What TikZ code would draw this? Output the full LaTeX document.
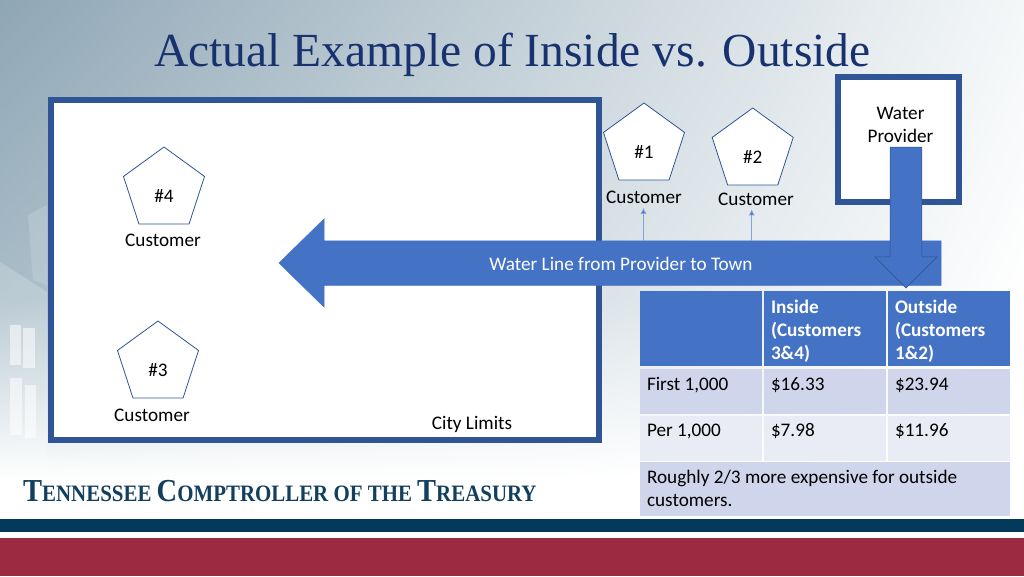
\documentclass[tikz,border=0pt]{standalone}
\usepackage{fontspec}
\setmainfont{Carlito}
\newfontfamily\titlefont{Liberation Serif}
\newfontfamily\footfont[FakeStretch=0.89]{Liberation Serif}
\usetikzlibrary{positioning}
\usetikzlibrary{calc}
\usetikzlibrary{shadings}
\usetikzlibrary{arrows.meta}
\usetikzlibrary{shapes,shapes.arrows,shapes.geometric}
\definecolor{boxblue}{HTML}{2F5597}
\definecolor{fillblue}{HTML}{4472C4}
\definecolor{edgeblue}{HTML}{2F528F}
\definecolor{rowdark}{HTML}{CFD5EA}
\definecolor{rowlight}{HTML}{E9EBF5}
\definecolor{titleblue}{HTML}{17326F}
\definecolor{footblue}{HTML}{123F5E}
\definecolor{bandnavy}{HTML}{033A5C}
\definecolor{bandred}{HTML}{9C2A41}
\definecolor{bgtop}{HTML}{8FA6B5}
\definecolor{bgmid}{HTML}{A9BDC8}
\definecolor{bgright}{HTML}{F4F7F8}
\tikzstyle{limitbox}=[draw=boxblue,fill=white,line width=6pt]
\tikzstyle{pentagon}=[regular polygon,regular polygon sides=5,draw=boxblue,fill=white,minimum size=85.2pt,inner sep=0pt,outer sep=0pt,line width=0.8pt]
\tikzstyle{txt}=[font=\fontsize{19.2}{23}\selectfont,inner sep=0pt,outer sep=0pt,align=center]
\tikzstyle{celltxt}=[txt,anchor=base west,align=left]
\tikzstyle{headtxt}=[celltxt,font=\fontsize{19.2}{23}\selectfont\bfseries,text=white]
\tikzstyle{cell}=[inner sep=0pt,outer sep=0pt,anchor=north west]
\tikzstyle{tapline}=[draw=fillblue!65,line width=0.8pt,shorten >=4pt,-{Latex[length=6pt,width=6pt,fill=fillblue]}]
\tikzstyle{linearrow}=[single arrow,fill=fillblue,draw=fillblue,outer sep=0pt,line width=0.5pt]
\newcommand{\smallcap}[2]{{\fontsize{32}{32}\selectfont #1}{\fontsize{23.5}{24}\selectfont #2}}

\begin{document}
\begin{tikzpicture}[x=1pt,y=-1pt]
    \useasboundingbox (0,0) rectangle (1024,576);

% Background
    \fill[white] (0,0) rectangle (1024,576);
    \shade[upper left=bgtop,upper right=bgright,lower left=bgmid,lower right=white] (0,0) rectangle (1024,300);
    \shade[upper left=bgmid,upper right=white,lower left=white,lower right=white] (0,300) rectangle (1024,480);

% Building
    \fill[white,opacity=0.15] (28,215) -- (47,205) -- (47,285) -- (33,280) -- cycle;
    \fill[white,opacity=0.2] (0,262) -- (47,292) -- (47,470) -- (0,470) -- cycle;
    \foreach \x/\y/\w/\h in {10/325/11/40,23/328/12/40,10/378/12/57,25/385/11/53}
        \fill[white,opacity=0.55] (\x,\y) rectangle (\x+\w,\y+\h);

% Title
    \node[inner sep=0pt,anchor=base west,text=titleblue,font=\fontsize{47.5}{50}\selectfont\titlefont] (title) at (154,66) {Actual Example of Inside vs. Outside};

% Boxes
    \draw[limitbox] (51,100) rectangle (599,440);
    \draw[limitbox] (838,76.5) rectangle (959,202);
    \node[txt] (provider) at (900.5,125) {Water\\Provider};
    \node[txt] (limits) at (472,424) {City Limits};

% Customers
    \foreach \pos/\name/\num in {{(644,145.6)/pa/1},{(752.7,150.6)/pb/2},{(158,363.6)/pc/3},{(164,189.6)/pd/4}}
    {
        \node[pentagon] (\name) at \pos {};
        \node[txt,yshift=-6pt] (\name num) at (\name) {\#\num};
    }
    \foreach \pos/\name in {{(644,197.5)/ca},{(756,199)/cb},{(152,415)/cc},{(163,240)/cd}}
        \node[txt] (\name) at \pos {Customer};

% Water line
    \node[linearrow,inner sep=22pt,anchor=tip,shape border rotate=180,minimum height=662pt,minimum width=88pt,single arrow head extend=22pt,single arrow head indent=0pt,single arrow tip angle=88.8] (waterline) at (279,263) {};
    \node[txt,text=white] (linetxt) at (621,263.5) {Water Line from Provider to Town};

    \coordinate (tapa) at (643.5,241);
    \coordinate (tapb) at (751.7,241);
    \draw[tapline] (tapa) -- (tapa |- ca.south);
    \draw[tapline] (tapb) -- (tapb |- cb.south);

    \node[linearrow,draw=edgeblue,inner sep=15.7pt,anchor=tip,shape border rotate=270,minimum height=141pt,minimum width=62pt,single arrow head extend=15.3pt,single arrow head indent=0pt,single arrow tip angle=90] (feed) at (906,288) {};

% Table
    \foreach \x/\y/\w/\h/\name/\col in {640/291/122/75/ha/fillblue,764/291/122/75/hb/fillblue,888/291/122/75/hc/fillblue,
        640/369/122/44.5/ra/rowdark,764/369/122/44.5/rb/rowdark,888/369/122/44.5/rc/rowdark,
        640/415.5/122/45/sa/rowlight,764/415.5/122/45/sb/rowlight,888/415.5/122/45/sc/rowlight,
        640/462/370/53.8/ta/rowdark}
        \node[cell,fill=\col,minimum width=\w pt,minimum height=\h pt] (\name) at (\x,\y) {};

    \foreach \x/\y/\name/\body in {771/313/hb1/Inside,771/336/hb2/(Customers,771/359/hb3/3\&4),
        895/313/hc1/Outside,895/336/hc2/(Customers,895/359/hc3/1\&2)}
        \node[headtxt] (\name) at (\x,\y) {\body};

    \foreach \x/\y/\name/\body in {647/390/ra1/{First 1,000},771/390/rb1/\$16.33,895/390/rc1/\$23.94,
        647/436/sa1/{Per 1,000},771/436/sb1/\$7.98,895/436/sc1/\$11.96,
        647/483/ta1/{Roughly 2/3 more expensive for outside},647/506/ta2/customers.}
        \node[celltxt] (\name) at (\x,\y) {\body};

% Footer
    \node[inner sep=0pt,anchor=base west,text=footblue,font=\fontsize{23.5}{24}\footfont\bfseries\selectfont] (foot) at (23,501) {\smallcap{T}{ENNESSEE} \smallcap{C}{OMPTROLLER OF THE} \smallcap{T}{REASURY}};
    \fill[bandnavy] (0,518.7) rectangle (1024,532);
    \fill[bandred] (0,537.7) rectangle (1024,576);
\end{tikzpicture}
\end{document}
